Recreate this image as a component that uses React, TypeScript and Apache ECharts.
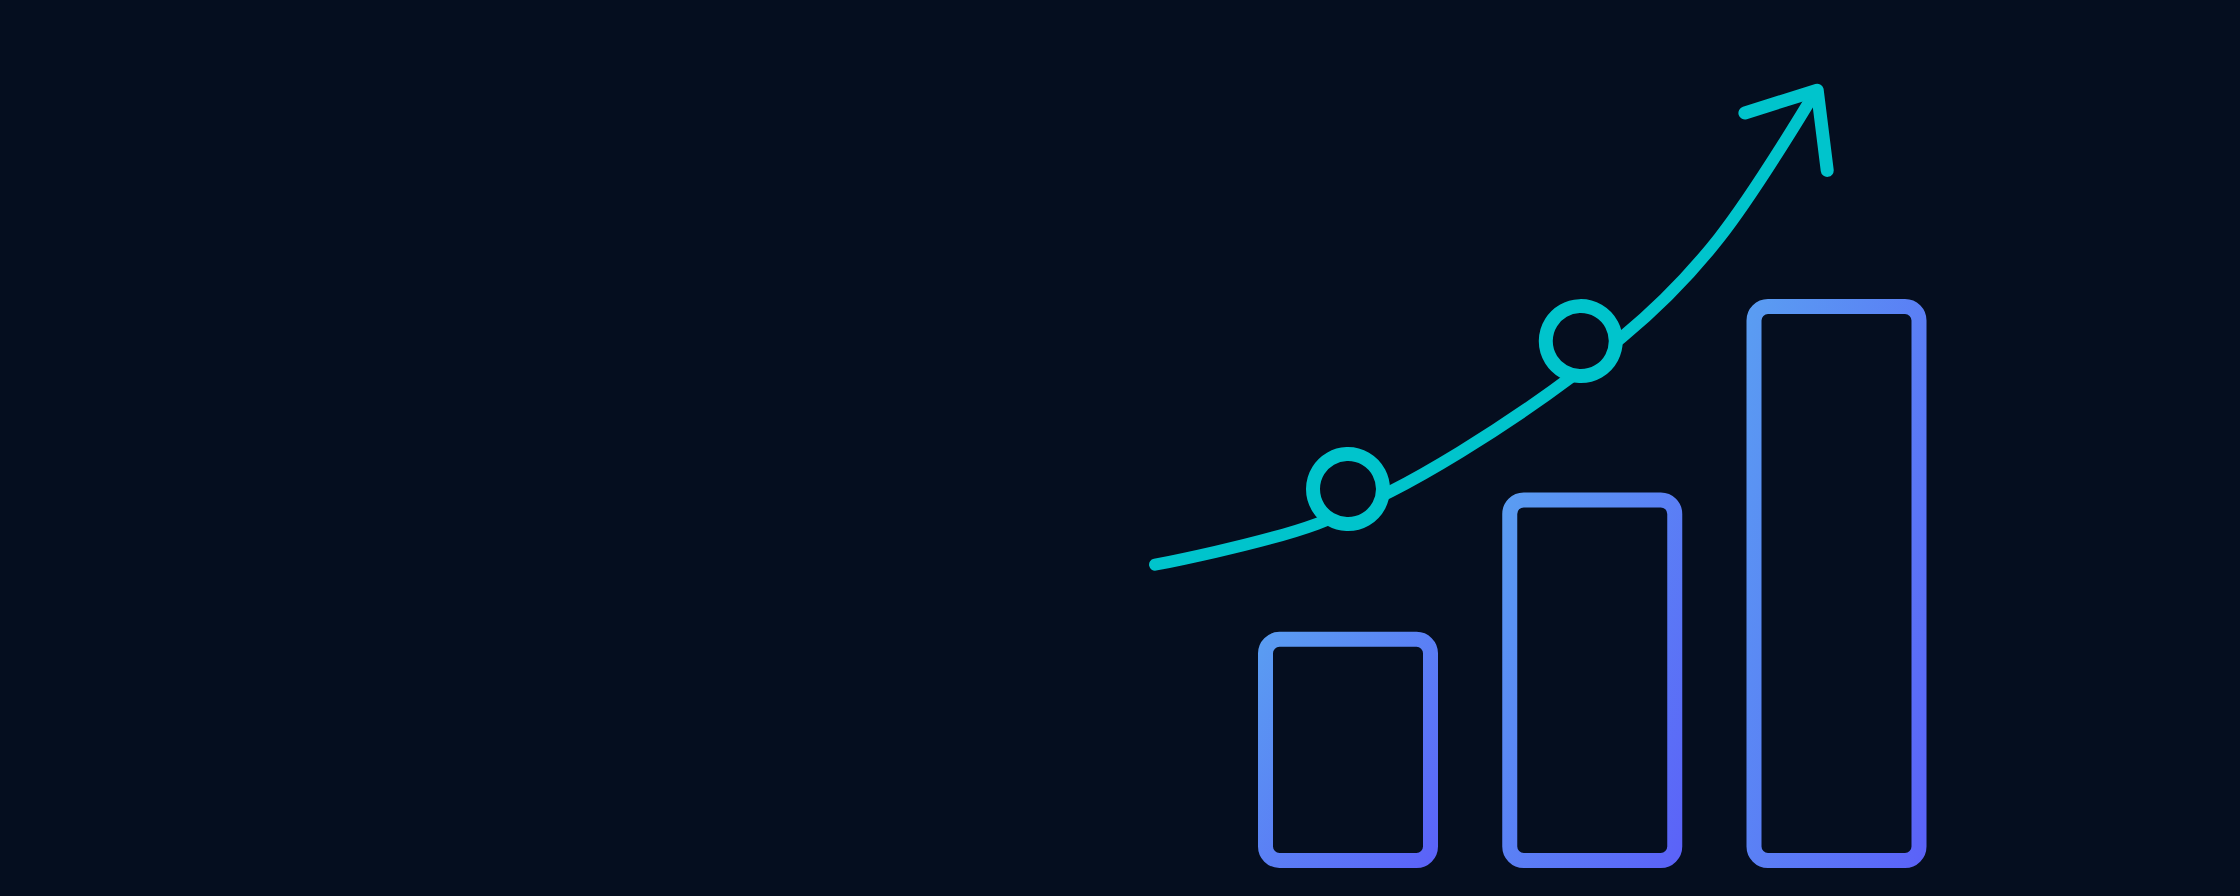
import React, { useEffect, useRef } from "react";
import * as echarts from "echarts";

// Bars (category position on x, height on y)
const barX = [1, 2, 3];
const barValues = [41.5, 66, 100];

// Growth curve
const trendX = [0.21, 0.873, 1.459, 2.122, 2.519, 2.913];
const trendY = [53.3, 60.5, 73.1, 93.3, 110.7, 136.4];

// Arrow head (left arm end, tip, right arm end)
const arrowX = [2.625, 2.921, 2.962];
const arrowY = [132.7, 136.7, 122.6];

// Ring markers on the curve
const markerX = [1.0, 1.953];
const markerY = [66.6, 92.6];

const BG = "#050e1f";
const CYAN = "#00c4cc";

export default function App() {
  const ref = useRef<HTMLDivElement>(null);

  useEffect(() => {
    if (!ref.current) return;
    const chart = echarts.init(ref.current, undefined, { renderer: "svg" });
    const barGradient = new echarts.graphic.LinearGradient(0, 0, 1, 1, [
      { offset: 0, color: "#5a9cf2" },
      { offset: 1, color: "#5b63f8" },
    ]);
    chart.setOption({
      animation: false,
      backgroundColor: BG,
      grid: { left: 1103.75, right: 159.25, top: 14.5, bottom: 28 },
      xAxis: {
        type: "value",
        min: 0,
        max: 4,
        show: false,
        splitLine: { show: false },
      },
      yAxis: {
        type: "value",
        min: 0,
        max: 150,
        show: false,
        splitLine: { show: false },
      },
      series: [
        {
          type: "bar",
          barWidth: 180,
          data: barX.map((x, i) => [x, barValues[i]]),
          itemStyle: {
            color: "rgba(0,0,0,0)",
            borderColor: barGradient,
            borderWidth: 15,
            borderRadius: 14,
          },
          z: 1,
        },
        {
          type: "line",
          smooth: 0.35,
          smoothConstraint: false,
          showSymbol: false,
          symbol: "none",
          data: trendX.map((x, i) => [x, trendY[i]]),
          lineStyle: { color: CYAN, width: 12, cap: "round", join: "round" },
          z: 2,
        },
        {
          type: "line",
          showSymbol: false,
          symbol: "none",
          data: arrowX.map((x, i) => [x, arrowY[i]]),
          lineStyle: { color: CYAN, width: 13, cap: "round", join: "round" },
          z: 2,
        },
        {
          type: "scatter",
          symbol: "circle",
          symbolSize: 70,
          data: markerX.map((x, i) => [x, markerY[i]]),
          itemStyle: { color: BG, borderColor: CYAN, borderWidth: 14, opacity: 1 },
          z: 3,
        },
      ],
    });
    return () => chart.dispose();
  }, []);

  return (
    <div
      ref={ref}
      style={{
        position: "fixed",
        left: 0,
        top: 0,
        width: 2240,
        height: 896,
        background: BG,
      }}
    />
  );
}
